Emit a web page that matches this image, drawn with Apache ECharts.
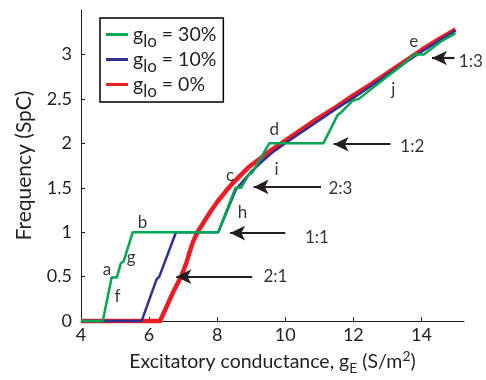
<!DOCTYPE html>
<html><head><meta charset="utf-8">
<script src="https://cdn.jsdelivr.net/npm/echarts@6/dist/echarts.min.js"></script>
<style>html,body{margin:0;padding:0;background:#fff}#c{width:486px;height:380px}</style>
</head><body><div id="c"></div>
<script>
// ---- data ----
const green30X = [4, 4.64, 4.9, 5.05, 5.17, 5.25, 5.52, 8.03, 8.54, 8.7, 8.93, 9.03, 9.53, 11.12, 11.54, 11.62, 11.98, 12.16, 12.89, 13.4, 13.8, 14.07, 14.55, 15];
const green30Y = [0, 0, 0.49, 0.49, 0.65, 0.67, 1.0, 1.0, 1.5, 1.5, 1.65, 1.67, 2.0, 2.0, 2.32, 2.34, 2.48, 2.5, 2.72, 2.87, 3.0, 3.0, 3.14, 3.24];
const blue10X = [4, 5.78, 6.22, 6.3, 6.79, 8.03, 8.3, 8.55, 8.75, 9.0, 9.3, 9.6, 10.0, 10.5, 11.0, 11.5, 12.0, 12.5, 13.0, 13.5, 14.0, 14.5, 15];
const blue10Y = [0, 0, 0.47, 0.5, 1.0, 1.0, 1.25, 1.48, 1.57, 1.68, 1.79, 1.89, 2.0, 2.13, 2.26, 2.39, 2.51, 2.64, 2.77, 2.9, 3.03, 3.15, 3.27];
const red0X = [4, 6.32, 6.5, 6.7, 6.96, 7.1, 7.21, 7.3, 7.42, 7.6, 7.8, 8.0, 8.25, 8.5, 8.92, 9.3, 9.61, 10.0, 10.5, 10.88, 11.5, 12.0, 12.5, 13.0, 13.5, 14.0, 14.5, 15.0];
const red0Y = [0, 0, 0.15, 0.32, 0.52, 0.66, 0.8, 0.9, 1.0, 1.11, 1.23, 1.34, 1.46, 1.57, 1.73, 1.84, 1.93, 2.03, 2.16, 2.26, 2.41, 2.54, 2.66, 2.79, 2.92, 3.05, 3.17, 3.28];
const seriesLabels = ['30%', '10%', '0%'];
const xTicks = [4, 6, 8, 10, 12, 14];
const yTicks = [0, 0.5, 1, 1.5, 2, 2.5, 3];
// annotation letters
const letterText = ['a', 'f', 'g', 'b', 'h', 'c', 'i', 'd', 'j', 'e'];
const letterX = [4.76, 5.07, 5.47, 5.81, 8.74, 8.38, 9.74, 9.68, 13.17, 13.77];
const letterY = [0.58, 0.28, 0.72, 1.11, 1.22, 1.64, 1.71, 2.15, 2.61, 3.15];
// mode-locking arrows
const ratioText = ['2:1', '1:1', '2:3', '1:2', '1:3'];
const ratioTextX = [9.71, 10.93, 11.62, 13.73, 15.45];
const ratioTextY = [0.5, 0.94, 1.49, 1.96, 2.92];
const arrowTailX = [9.03, 10.0, 11.05, 13.09, 14.97];
const arrowHeadX = [6.8, 8.38, 9.07, 11.42, 14.31];
const arrowY = [0.5, 0.99, 1.51, 1.99, 2.96];

const pairs = (xs, ys) => xs.map((x, i) => [x, ys[i]]);
const txt = '#231f20';
const FONT = 'Lato';

const chart = echarts.init(document.getElementById('c'), null, {renderer: 'canvas'});
const annData = letterText.map((t, i) => ({value: [letterX[i], letterY[i]], name: t}))
  .concat(ratioText.map((t, i) => ({value: [ratioTextX[i], ratioTextY[i]], name: t})));

chart.setOption({
  animation: false,
  textStyle: {fontFamily: FONT},
  grid: {left: 81, right: 22, top: 10, bottom: 53, containLabel: false},
  legend: {
    left: 100, top: 18, orient: 'vertical',
    data: ['g30', 'g10', 'g0'],
    icon: 'rect',
    borderColor: '#000', borderWidth: 1.5,
    padding: [1, 7, 2, 6], itemGap: -6,
    itemWidth: 22, itemHeight: 3,
    formatter: function (n) {
      const i = ['g30', 'g10', 'g0'].indexOf(n);
      return '{m|g}{s|lo}{m| = ' + seriesLabels[i] + '}';
    },
    textStyle: {
      color: txt, fontFamily: FONT,
      rich: {
        m: {fontSize: 19.5, lineHeight: 17, color: txt, fontFamily: FONT},
        s: {fontSize: 17, lineHeight: 17, padding: [14, 0, 0, 0], color: txt, fontFamily: FONT}
      }
    }
  },
  xAxis: {
    type: 'value', min: 4, max: 15.25, interval: 2,
    axisLine: {lineStyle: {color: txt, width: 1}},
    axisTick: {inside: true, length: 4, lineStyle: {color: txt}},
    splitLine: {show: false},
    axisLabel: {fontSize: 18, color: txt, margin: 5, showMaxLabel: false,
      formatter: v => xTicks.includes(v) ? String(v) : ''},
    name: '{m|Excitatory conductance, g}{s|E}{m| (S/m}{p|2}{m|)}',
    nameLocation: 'middle', nameGap: 30,
    nameTextStyle: {
      color: txt,
      rich: {
        m: {fontSize: 19.5, lineHeight: 19, color: txt, fontFamily: FONT},
        s: {fontSize: 14, lineHeight: 14, padding: [12, 0, 0, 0], color: txt, fontFamily: FONT},
        p: {fontSize: 14, lineHeight: 14, padding: [0, 0, 12, 0], color: txt, fontFamily: FONT}
      }
    }
  },
  yAxis: {
    type: 'value', min: 0, max: 3.5, interval: 0.5,
    axisLine: {lineStyle: {color: txt, width: 1}},
    axisTick: {inside: true, length: 4, lineStyle: {color: txt}},
    splitLine: {show: false},
    axisLabel: {fontSize: 18, color: txt, margin: 9, showMaxLabel: false,
      formatter: v => yTicks.includes(v) ? String(v) : ''},
    name: 'Frequency (SpC)',
    nameLocation: 'middle', nameGap: 46,
    nameTextStyle: {fontSize: 21, color: txt, fontFamily: FONT}
  },
  series: [
    {name: 'g0', type: 'line', data: pairs(red0X, red0Y), symbol: 'none', clip: false, z: 2,
      color: '#ed1c24', lineStyle: {color: '#ed1c24', width: 4.5, join: 'round'}},
    {name: 'g10', type: 'line', data: pairs(blue10X, blue10Y), symbol: 'none', clip: false, z: 3,
      color: '#2e3192', lineStyle: {color: '#2e3192', width: 2.5}},
    {name: 'g30', type: 'line', data: pairs(green30X, green30Y), symbol: 'none', clip: false, z: 4,
      color: '#00a651', lineStyle: {color: '#00a651', width: 2.5}},
    {name: 'ann', type: 'scatter', data: annData, symbolSize: 0, silent: true, z: 5, clip: false,
      label: {show: true, position: 'inside', formatter: p => p.name, fontSize: 17, color: '#000', fontFamily: FONT},
      markLine: {
        silent: true, symbol: ['none', 'arrow'], symbolSize: [11, 15],
        lineStyle: {color: txt, width: 2.2, type: 'solid'},
        label: {show: false},
        data: arrowTailX.map((t, i) => [{coord: [t, arrowY[i]]}, {coord: [arrowHeadX[i], arrowY[i]]}])
      }}
  ]
});
</script>
</body></html>
